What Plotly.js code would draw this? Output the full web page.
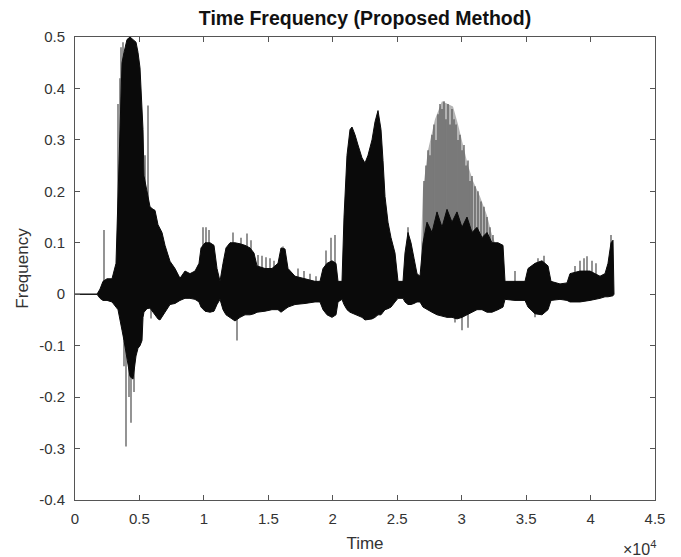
<!DOCTYPE html>
<html>
<head>
<meta charset="utf-8">
<script src="https://cdn.plot.ly/plotly-3.0.1.min.js"></script>
<style>html,body{margin:0;padding:0;background:#fff;}#chart{width:681px;height:557px;}</style>
</head>
<body>
<div id="chart"></div>
<script>
// ---- Data (time in samples, frequency values) ----
// Solid (dense black) envelope of the waveform
const envTime = [0,1707,1940,2172,2483,2871,3181,3336,3491,3647,3802,4034,4267,4500,4733,4888,5043,5198,5276,5353,5586,5819,6052,6207,6440,6595,6750,6983,7371,7759,8147,8534,8922,9310,9621,9776,10086,10474,10784,11017,11250,11483,11715,12026,12414,12802,13190,13578,13888,14121,14741,15284,15750,15983,16293,16526,17069,17845,18621,19009,19241,19552,19940,20250,20405,20715,20871,21103,21336,21491,21724,21957,22267,22500,22733,23043,23276,23509,23741,23897,24052,24284,24517,24828,25060,25448,25603,25836,26069,26302,26534,26767,27000,27310,27698,28086,28474,28862,29250,29638,30026,30414,30802,31189,31577,31966,32353,32819,33207,33362,34138,34914,35147,35690,36233,36698,36931,37629,38172,38405,39181,39957,40733,41121,41353,41586,41741,41819];
const envUpper = [0,0,0.010,0.025,0.030,0.030,0.060,0.190,0.300,0.450,0.470,0.495,0.500,0.495,0.490,0.470,0.440,0.360,0.320,0.230,0.200,0.170,0.165,0.163,0.135,0.128,0.120,0.095,0.064,0.050,0.031,0.045,0.040,0.045,0.060,0.090,0.100,0.100,0.095,0.050,0.025,0.060,0.090,0.100,0.100,0.098,0.095,0.090,0.080,0.055,0.050,0.050,0.060,0.090,0.088,0.050,0.035,0.030,0.025,0.025,0.050,0.060,0.065,0.060,0.025,0.025,0.150,0.270,0.320,0.325,0.310,0.290,0.265,0.255,0.270,0.300,0.335,0.357,0.320,0.260,0.190,0.140,0.110,0.080,0.025,0.025,0.080,0.120,0.100,0.070,0.040,0.035,0.100,0.140,0.120,0.160,0.130,0.165,0.140,0.160,0.130,0.150,0.120,0.130,0.110,0.120,0.100,0.100,0.095,0.025,0.025,0.025,0.050,0.060,0.065,0.055,0.025,0.020,0.022,0.040,0.045,0.045,0.035,0.040,0.060,0.100,0.105,0];
const envLower = [0,0,-0.008,-0.012,-0.012,-0.015,-0.025,-0.030,-0.053,-0.070,-0.090,-0.120,-0.160,-0.165,-0.120,-0.105,-0.100,-0.090,-0.045,-0.035,-0.028,-0.027,-0.035,-0.040,-0.048,-0.050,-0.045,-0.035,-0.020,-0.018,-0.012,-0.008,-0.008,-0.010,-0.015,-0.025,-0.033,-0.035,-0.033,-0.020,-0.010,-0.030,-0.040,-0.045,-0.052,-0.045,-0.040,-0.040,-0.038,-0.035,-0.033,-0.030,-0.030,-0.035,-0.030,-0.025,-0.020,-0.018,-0.015,-0.015,-0.030,-0.040,-0.045,-0.040,-0.015,-0.010,-0.020,-0.030,-0.035,-0.038,-0.040,-0.042,-0.045,-0.050,-0.050,-0.048,-0.045,-0.040,-0.040,-0.035,-0.030,-0.028,-0.025,-0.015,-0.008,-0.008,-0.015,-0.020,-0.020,-0.018,-0.015,-0.015,-0.025,-0.030,-0.035,-0.040,-0.042,-0.045,-0.045,-0.048,-0.045,-0.040,-0.035,-0.030,-0.030,-0.035,-0.035,-0.030,-0.025,-0.010,-0.012,-0.012,-0.025,-0.038,-0.040,-0.030,-0.012,-0.010,-0.012,-0.015,-0.015,-0.012,-0.008,-0.005,-0.005,-0.004,-0.003,0];

// Lighter grey spike envelope (third burst)
const greyTime = [26845,27000,27388,27931,28474,28862,29328,29716,30103,30491,30879,31422,31966,32353,32586];
const greyTop  = [0.10,0.205,0.28,0.34,0.375,0.37,0.365,0.33,0.29,0.25,0.22,0.19,0.153,0.115,0.10];

// Individual spikes (time, peak value)
const spikeTime = [2250,3336,3491,3569,3724,5431,5664,3802,3957,4190,4345,4578,5897,9931,10164,10397,12259,12879,13345,13655,12569,14198,14509,14819,15129,15440,16138,17302,17767,18233,18698,19474,19862,20172,25836,
  27078,27233,27388,27543,27698,27853,28009,28164,28319,28474,28629,28784,28940,29095,29250,29405,29560,29716,29871,30026,30181,30336,30491,30646,30802,31034,31267,31500,31733,31966,32198,32431,
  29483,30026,30491,34138,35922,36388,35690,38793,39181,39491,39724,40112,40422,41586];
const spikeValue = [0.125,0.37,0.42,0.48,0.49,0.27,0.367,-0.14,-0.296,-0.20,-0.25,-0.19,-0.047,0.13,0.13,0.125,0.12,0.11,0.118,0.105,-0.09,0.076,0.075,0.072,0.07,0.065,0.093,0.05,0.045,0.04,0.035,0.085,0.11,0.115,0.13,
  0.22,0.25,0.28,0.27,0.31,0.33,0.30,0.35,0.37,0.36,0.375,0.34,0.37,0.33,0.36,0.34,0.33,0.30,0.31,0.28,0.29,0.25,0.26,0.22,0.23,0.21,0.20,0.18,0.17,0.15,0.13,0.115,
  -0.055,-0.07,-0.065,0.045,0.07,0.075,-0.045,0.055,0.065,0.07,0.074,0.065,0.06,0.115];

const xTickVals = [0,5000,10000,15000,20000,25000,30000,35000,40000,45000];
const xTickText = ['0','0.5','1','1.5','2','2.5','3','3.5','4','4.5'];
const yTickVals = [-0.4,-0.3,-0.2,-0.1,0,0.1,0.2,0.3,0.4,0.5];
const yTickText = ['-0.4','-0.3','-0.2','-0.1','0','0.1','0.2','0.3','0.4','0.5'];

// ---- Build traces ----
const polyX = envTime.concat(envTime.slice().reverse());
const polyY = envUpper.concat(envLower.slice().reverse());

const sx = [], sy = [];
for (let i = 0; i < spikeTime.length; i++) {
  sx.push(spikeTime[i], spikeTime[i], null);
  sy.push(0, spikeValue[i], null);
}

const traces = [
  {x: greyTime, y: greyTop, type: 'scatter', mode: 'lines', fill: 'tozeroy',
   fillcolor: '#b4b4b4', line: {width: 0, color: '#b4b4b4'}, hoverinfo: 'skip', showlegend: false},
  {x: sx, y: sy, type: 'scatter', mode: 'lines', line: {width: 1.3, color: '#5a5a5a'},
   hoverinfo: 'skip', showlegend: false},
  {x: polyX, y: polyY, type: 'scatter', mode: 'lines', fill: 'toself',
   fillcolor: '#0a0a0a', line: {width: 1, color: '#0a0a0a'}, hoverinfo: 'skip', showlegend: false}
];

const FONT = 'Liberation Sans, Arial, sans-serif';
const axisCommon = {
  showline: true, mirror: 'ticks', linecolor: '#555', linewidth: 1,
  ticks: 'inside', ticklen: 5, tickcolor: '#555', tickwidth: 1,
  showgrid: false, zeroline: false,
  tickfont: {family: FONT, size: 15, color: '#333'}
};

const layout = {
  width: 681, height: 557,
  margin: {l: 75, r: 26, t: 37, b: 57},
  paper_bgcolor: '#fff', plot_bgcolor: '#fff',
  font: {family: FONT, color: '#333'},
  title: {text: '<b>Time Frequency (Proposed Method)</b>',
          font: {family: FONT, size: 19.5, color: '#111'},
          xref: 'paper', x: 0.5, xanchor: 'center', yref: 'container', y: 0.968, yanchor: 'middle'},
  xaxis: Object.assign({}, axisCommon, {
    range: [0, 45000], tickvals: xTickVals, ticktext: xTickText, ticklabelstandoff: 5,
    title: {text: 'Time', font: {family: FONT, size: 17, color: '#333'}, standoff: 11}
  }),
  yaxis: Object.assign({}, axisCommon, {
    range: [-0.4, 0.5], tickvals: yTickVals, ticktext: yTickText, ticklabelstandoff: 6,
    title: {text: 'Frequency', font: {family: FONT, size: 17, color: '#333'}, standoff: 6}
  }),
  annotations: [{
    xref: 'paper', yref: 'paper', x: 1.005, y: -0.103, xanchor: 'right', yanchor: 'middle',
    text: '×10<sup>4</sup>', showarrow: false, font: {family: FONT, size: 16, color: '#333'}
  }],
  showlegend: false
};

Plotly.newPlot('chart', traces, layout, {staticPlot: true, displayModeBar: false});
</script>
</body>
</html>
